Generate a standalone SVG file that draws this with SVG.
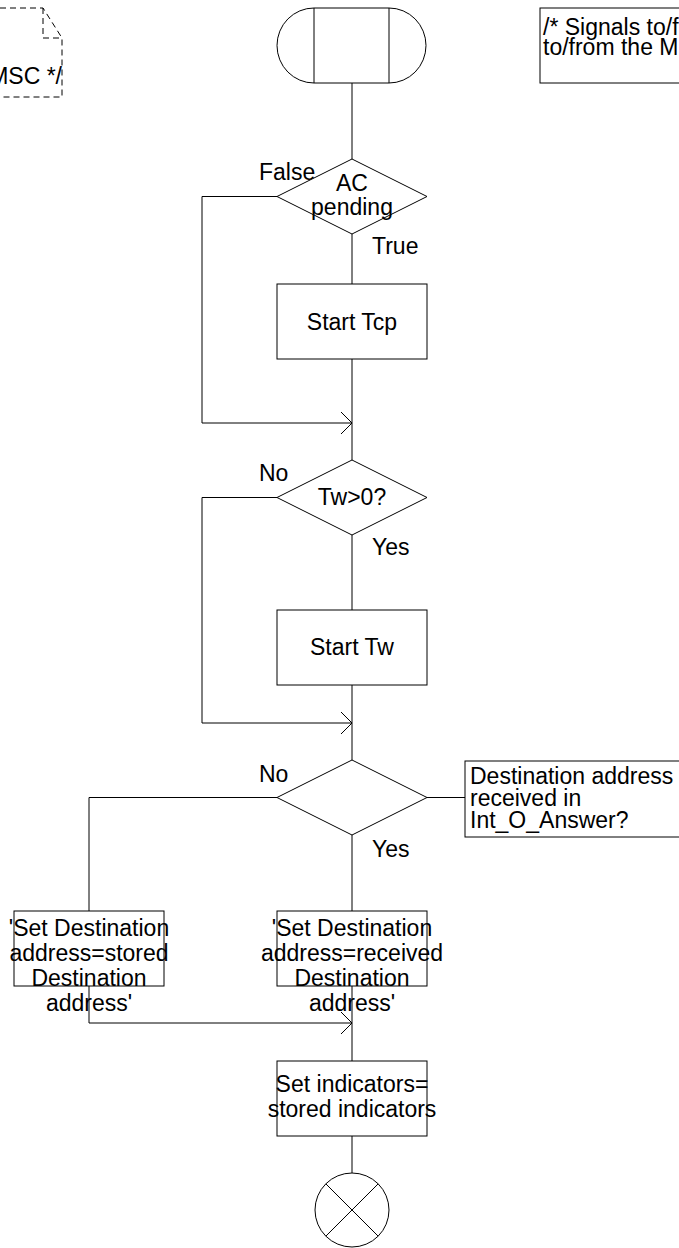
<svg xmlns="http://www.w3.org/2000/svg" width="679" height="1248" viewBox="0 0 679 1248">
<style>
.s{fill:none;stroke:#000;stroke-width:1}
.w{fill:#fff;stroke:#000;stroke-width:1}
.d{fill:none;stroke:#000;stroke-width:1;stroke-dasharray:6 4}
text{font-family:"Liberation Sans",Arial,sans-serif;font-size:23px;fill:#000}
.c{text-anchor:middle}
</style>
<defs>
<marker id="arr" markerWidth="14" markerHeight="24" refX="12" refY="12" orient="auto" markerUnits="userSpaceOnUse">
<path d="M1,1 L12,12 L1,23" fill="none" stroke="#000" stroke-width="1"/>
</marker>
</defs>
<g id="connectors">
<path class="s" d="M352,83 V159"/>
<path class="s" d="M277,196.5 H202 V423 H352" marker-end="url(#arr)"/>
<path class="s" d="M352,234 V284"/>
<path class="s" d="M352,359 V460"/>
<path class="s" d="M277,497.5 H202 V723 H352" marker-end="url(#arr)"/>
<path class="s" d="M352,535 V610"/>
<path class="s" d="M352,685 V760"/>
<path class="s" d="M277,797.5 H89 V911"/>
<path class="s" d="M427,797.5 H465"/>
<path class="s" d="M352,835 V911"/>
<path class="s" d="M89,986 V1023 H352" marker-end="url(#arr)"/>
<path class="s" d="M352,986 V1061"/>
<path class="s" d="M352,1136 V1173"/>
<text x="259" y="180">False</text>
<text x="372" y="254">True</text>
<text x="259" y="481">No</text>
<text x="372" y="555">Yes</text>
<text x="259" y="782">No</text>
<text x="372" y="857">Yes</text>
</g>
<g id="note_left">
<path class="d" d="M0,8 H43 L62,38 V97 H0"/>
<path class="d" d="M43,8 V38 H62"/>
<text x="62" y="84" text-anchor="end">MSC */</text>
</g>
<g id="note_right">
<rect class="w" x="540" y="8" width="160" height="75"/>
<text x="543" y="35">/* Signals to/from the</text>
<text x="543" y="55">to/from the MSC */</text>
</g>
<g id="start">
<path class="w" d="M314,8 H389 A37,37.5 0 0 1 389,83 H314 A37,37.5 0 0 1 314,8 Z"/>
<path class="s" d="M314,8 V83 M389,8 V83"/>
</g>
<g id="dec_ac">
<path class="w" d="M352,159 L427,196.5 L352,234 L277,196.5 Z"/>
<text class="c" x="352" y="191">AC</text>
<text class="c" x="352" y="215">pending</text>
</g>
<g id="start_tcp">
<rect class="w" x="277" y="284" width="150" height="75"/>
<text class="c" x="352" y="330">Start Tcp</text>
</g>
<g id="dec_tw">
<path class="w" d="M352,460 L427,497.5 L352,535 L277,497.5 Z"/>
<text class="c" x="352" y="505">Tw&gt;0?</text>
</g>
<g id="start_tw">
<rect class="w" x="277" y="610" width="150" height="75"/>
<text class="c" x="352" y="655">Start Tw</text>
</g>
<g id="dec_dest">
<path class="w" d="M352,760 L427,797.5 L352,835 L277,797.5 Z"/>
</g>
<g id="comment_dest">
<rect class="w" x="465" y="761" width="230" height="76"/>
<text x="470" y="784">Destination address</text>
<text x="470" y="806">received in</text>
<text x="470" y="828">Int_O_Answer?</text>
</g>
<g id="set_stored">
<rect class="w" x="14" y="911" width="150" height="75"/>
<text class="c" x="89" y="936">'Set Destination</text>
<text class="c" x="89" y="961">address=stored</text>
<text class="c" x="89" y="986">Destination</text>
<text class="c" x="89" y="1011">address'</text>
</g>
<g id="set_received">
<rect class="w" x="277" y="911" width="150" height="75"/>
<text class="c" x="352" y="936">'Set Destination</text>
<text class="c" x="352" y="961">address=received</text>
<text class="c" x="352" y="986">Destination</text>
<text class="c" x="352" y="1011">address'</text>
</g>
<g id="set_indicators">
<rect class="w" x="277" y="1061" width="150" height="75"/>
<text class="c" x="352" y="1092">Set indicators=</text>
<text class="c" x="352" y="1117">stored indicators</text>
</g>
<g id="stop">
<circle class="w" cx="352" cy="1210" r="37"/>
<path class="s" d="M325.8,1183.8 L378.2,1236.2 M378.2,1183.8 L325.8,1236.2"/>
</g>
</svg>
